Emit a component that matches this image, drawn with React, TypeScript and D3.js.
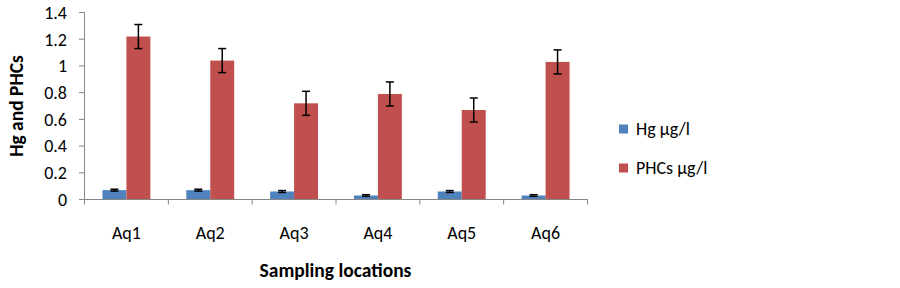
import React from 'react';
import * as d3 from 'd3';

const locations = ['Aq1', 'Aq2', 'Aq3', 'Aq4', 'Aq5', 'Aq6'];
const hgValues = [0.07, 0.07, 0.06, 0.03, 0.06, 0.03];
const hgErrors = [0.007, 0.007, 0.007, 0.006, 0.007, 0.006];
const phcValues = [1.22, 1.04, 0.72, 0.79, 0.67, 1.03];
const phcErrors = [0.09, 0.09, 0.09, 0.09, 0.09, 0.09];
const yTicks = [0, 0.2, 0.4, 0.6, 0.8, 1, 1.2, 1.4];
const seriesNames = ['Hg µg/l', 'PHCs µg/l'];
const seriesColors = ['#4F81BD', '#C0504D'];

const W = 900;
const H = 288;
const font = 'Carlito, Calibri, Lato, sans-serif';
const axisColor = '#868686';

const App = () => {
  const x = d3.scaleBand().domain(locations).range([84.5, 587.5]).paddingInner(0).paddingOuter(0);
  const inner = d3.scaleBand().domain(['hg', 'phc']).range([0, x.bandwidth()]).paddingOuter(0.75).paddingInner(0);
  const y = d3.scaleLinear().domain([0, 1.4]).range([199.5, 12.5]);

  const series = [
    { key: 'hg', values: hgValues, errors: hgErrors, color: seriesColors[0] },
    { key: 'phc', values: phcValues, errors: phcErrors, color: seriesColors[1] },
  ];

  const bounds = [...locations.map((l) => x(l) as number), x.range()[1]];

  return (
    <svg width={W} height={H} style={{ position: 'absolute', left: 0, top: 0, background: '#fff' }}>
      {/* bars */}
      {series.map((s) =>
        locations.map((loc, i) => (
          <rect
            key={s.key + loc}
            x={(x(loc) as number) + (inner(s.key) as number)}
            y={y(s.values[i])}
            width={inner.bandwidth()}
            height={y(0) - y(s.values[i])}
            fill={s.color}
          />
        ))
      )}
      {/* error bars */}
      {series.map((s) =>
        locations.map((loc, i) => {
          const cx = (x(loc) as number) + (inner(s.key) as number) + inner.bandwidth() / 2;
          const t = y(s.values[i] + s.errors[i]);
          const b = y(s.values[i] - s.errors[i]);
          return (
            <g key={'e' + s.key + loc} stroke="#000" strokeWidth={1.5}>
              <line x1={cx} x2={cx} y1={t} y2={b} />
              <line x1={cx - 4} x2={cx + 4} y1={t} y2={t} />
              <line x1={cx - 4} x2={cx + 4} y1={b} y2={b} />
            </g>
          );
        })
      )}
      {/* y axis */}
      <line x1={84.5} x2={84.5} y1={y(1.4)} y2={y(0)} stroke={axisColor} />
      {yTicks.map((t) => (
        <g key={t}>
          <line x1={79} x2={84.5} y1={y(t)} y2={y(t)} stroke={axisColor} />
          <text x={67} y={y(t)} dy="0.35em" textAnchor="end" fontFamily={font} fontSize={18} fill="#000">
            {d3.format('~g')(t)}
          </text>
        </g>
      ))}
      {/* x axis */}
      <line x1={84.5} x2={x.range()[1]} y1={y(0)} y2={y(0)} stroke={axisColor} />
      {bounds.map((b, i) => (
        <line key={i} x1={b} x2={b} y1={y(0)} y2={y(0) + 5} stroke={axisColor} />
      ))}
      {locations.map((loc) => (
        <text
          key={loc}
          x={(x(loc) as number) + x.bandwidth() / 2}
          y={233}
          dy="0.35em"
          textAnchor="middle"
          fontFamily={font}
          fontSize={18}
          fill="#000"
        >
          {loc}
        </text>
      ))}
      <text x={335.5} y={270} dy="0.35em" textAnchor="middle" fontFamily={font} fontSize={19.5} fontWeight="bold">
        Sampling locations
      </text>
      <text
        transform={`translate(16,106) rotate(-90)`}
        dy="0.35em"
        textAnchor="middle"
        fontFamily={font}
        fontSize={19.5}
        fontWeight="bold"
      >
        Hg and PHCs
      </text>
      {/* legend */}
      {seriesNames.map((n, i) => (
        <g key={n} transform={`translate(619,${129 + i * 39})`}>
          <rect x={0} y={-4.5} width={9} height={9} fill={seriesColors[i]} />
          <text x={17} y={0} dy="0.35em" fontFamily={font} fontSize={18} fill="#000">
            {n}
          </text>
        </g>
      ))}
    </svg>
  );
};

export default App;
